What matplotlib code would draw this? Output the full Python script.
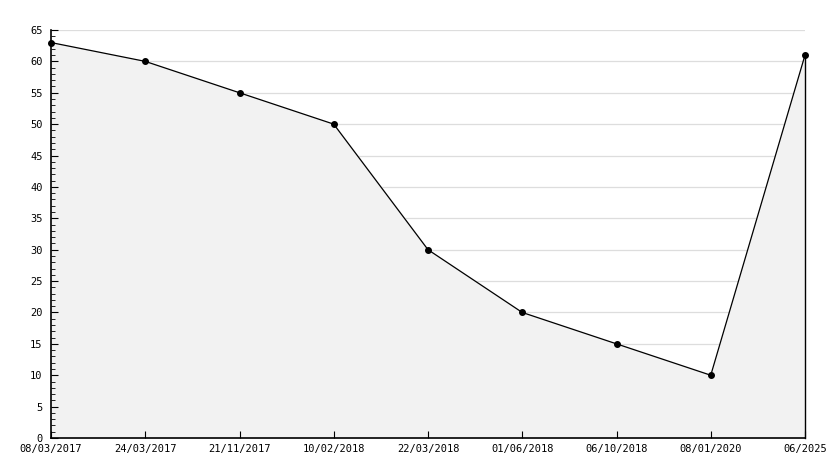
import matplotlib.pyplot as plt
from matplotlib.ticker import MultipleLocator

dates = ['08/03/2017', '24/03/2017', '21/11/2017', '10/02/2018', '22/03/2018',
         '01/06/2018', '06/10/2018', '08/01/2020', '06/2025']
values = [63, 60, 55, 50, 30, 20, 15, 10, 61]

plt.rcParams['font.family'] = ['DejaVu Sans Mono']

fig = plt.figure(figsize=(8.34, 4.68), dpi=100)
ax = fig.add_axes([51 / 834, 30 / 468, 754 / 834, 408 / 468])

x = list(range(len(dates)))
# horizontal grid under the filled area
for g in range(5, 66, 5):
    ax.axhline(g, color='#dddddd', lw=0.9, zorder=0.5)
ax.fill_between(x, values, 0, color='#f2f2f2', zorder=1)
ax.plot(x, values, color='black', lw=0.9, marker='o', ms=4, zorder=3, clip_on=False)
ax.plot([x[-1], x[-1]], [0, values[-1]], color='black', lw=1.0, zorder=3, clip_on=False)

ax.set_xlim(0, len(dates) - 1)
ax.set_ylim(0, 65)
ax.set_xticks(x)
ax.set_xticklabels(dates)
ax.yaxis.set_major_locator(MultipleLocator(5))
ax.yaxis.set_minor_locator(MultipleLocator(1))
ax.set_axisbelow(False)

for s in ['top', 'right']:
    ax.spines[s].set_visible(False)
ax.spines['left'].set_linewidth(1.2)
ax.spines['bottom'].set_linewidth(1.2)

ax.tick_params(axis='both', which='both', direction='in', labelsize=7.5, colors='black')
ax.tick_params(axis='y', which='major', length=5, pad=6)
ax.tick_params(axis='y', which='minor', length=3)
ax.tick_params(axis='x', length=5, pad=4)

fig.savefig('out.png', dpi=100)
